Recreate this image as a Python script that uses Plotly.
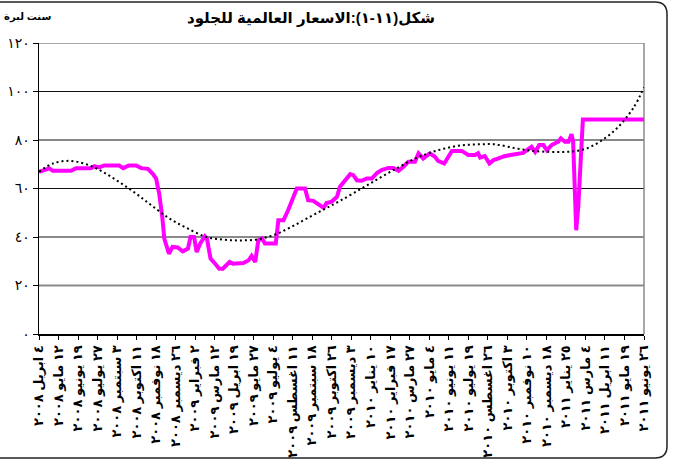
import plotly.graph_objects as go

# ---------------- data ----------------
price_dates = [
    "2008-04-04", "2008-04-18", "2008-04-24", "2008-05-01", "2008-06-05", "2008-06-15",
    "2008-07-14", "2008-07-21", "2008-07-30", "2008-08-09", "2008-09-07", "2008-09-15",
    "2008-09-26", "2008-10-10", "2008-10-20", "2008-11-02", "2008-11-11", "2008-11-18",
    "2008-11-24", "2008-11-30", "2008-12-04", "2008-12-13", "2008-12-20", "2008-12-30",
    "2009-01-09", "2009-01-19", "2009-01-24", "2009-01-31", "2009-02-05", "2009-02-12",
    "2009-02-21", "2009-02-25", "2009-03-04", "2009-03-13", "2009-03-21", "2009-03-28",
    "2009-04-10", "2009-04-17", "2009-05-07", "2009-05-17", "2009-05-23", "2009-05-30",
    "2009-06-05", "2009-06-12", "2009-06-18", "2009-07-09", "2009-07-14", "2009-07-24",
    "2009-08-02", "2009-08-19", "2009-09-04", "2009-09-10", "2009-09-20", "2009-10-10",
    "2009-10-16", "2009-10-26", "2009-11-05", "2009-11-11", "2009-11-29", "2009-12-01",
    "2009-12-07", "2009-12-14", "2009-12-23", "2010-01-02", "2010-01-12", "2010-01-22",
    "2010-01-31", "2010-02-13", "2010-02-23", "2010-03-05", "2010-03-14", "2010-03-24",
    "2010-04-06", "2010-04-13", "2010-04-22", "2010-05-05", "2010-05-15", "2010-05-21",
    "2010-06-02", "2010-06-17", "2010-07-06", "2010-07-19", "2010-08-01", "2010-08-07",
    "2010-08-11", "2010-08-20", "2010-08-29", "2010-09-06", "2010-09-16", "2010-09-27",
    "2010-10-09", "2010-11-03", "2010-11-10", "2010-11-19", "2010-11-26", "2010-12-04",
    "2010-12-12", "2010-12-19", "2010-12-28", "2011-01-04", "2011-01-10", "2011-01-15",
    "2011-01-23", "2011-01-30", "2011-02-05", "2011-02-08", "2011-02-14", "2011-02-18",
    "2011-02-27", "2011-06-26",
]
price_values = [
    66.9, 67.6, 68.3, 67.3, 67.3, 68.3,
    68.3, 69.2, 68.7, 69.5, 69.5, 68.4,
    69.5, 69.5, 68.4, 68.1, 66.2, 64.1,
    57.9, 48.3, 39.3, 33.1, 35.9, 35.7,
    34.1, 35.2, 40.0, 40.0, 33.8, 37.3,
    40.3, 39.3, 31.1, 29.0, 26.9, 26.9,
    29.7, 29.0, 29.3, 30.4, 32.2, 29.7,
    38.6, 39.4, 37.3, 37.3, 46.9, 46.9,
    51.0, 60.0, 60.0, 55.2, 54.9, 52.1,
    54.0, 54.6, 56.5, 60.7, 65.5, 65.9,
    65.5, 63.4, 63.2, 64.1, 64.1, 66.4,
    67.6, 68.5, 68.5, 67.3, 68.9, 71.0,
    71.0, 74.5, 72.4, 74.5, 73.1, 71.4,
    70.3, 75.5, 75.5, 73.8, 73.8, 74.5,
    72.8, 73.4, 70.3, 71.7, 72.4, 73.3,
    73.8, 74.7, 75.8, 77.2, 75.1, 77.9,
    77.9, 75.8, 77.9, 78.6, 79.3, 80.7,
    79.3, 79.3, 82.4, 79.3, 42.8, 52.4,
    88.5, 88.5,
]

trend_dates = [
    "2008-04-04", "2008-05-01", "2008-06-02", "2008-07-05", "2008-08-06", "2008-09-07",
    "2008-10-10", "2008-11-11", "2008-12-14", "2009-01-15", "2009-02-24", "2009-03-29",
    "2009-04-30", "2009-06-02", "2009-07-04", "2009-08-06", "2009-09-07", "2009-10-10",
    "2009-11-11", "2009-12-23", "2010-01-25", "2010-02-26", "2010-03-31", "2010-05-02",
    "2010-06-03", "2010-07-06", "2010-08-07", "2010-09-09", "2010-10-21", "2010-11-22",
    "2010-12-25", "2011-01-26", "2011-02-28", "2011-04-01", "2011-05-04", "2011-06-05",
    "2011-06-26",
]
trend_values = [
    66.9, 70.3, 71.4, 70.0, 66.9, 62.7,
    57.9, 52.7, 47.6, 43.9, 40.0, 38.9,
    38.6, 39.0, 40.7, 43.9, 47.6, 51.3,
    54.9, 60.0, 64.1, 67.9, 71.7, 74.5,
    76.5, 77.8, 78.2, 78.2, 76.5, 75.5,
    75.1, 75.1, 76.1, 79.3, 84.8, 93.1,
    101.7,
]

tick_dates = [
    "2008-04-04", "2008-05-12", "2008-06-19", "2008-07-27", "2008-09-03", "2008-10-11",
    "2008-11-18", "2008-12-26", "2009-02-02", "2009-03-12", "2009-04-19", "2009-05-27",
    "2009-07-04", "2009-08-11", "2009-09-18", "2009-10-26", "2009-12-03", "2010-01-10",
    "2010-02-17", "2010-03-27", "2010-05-04", "2010-06-11", "2010-07-19", "2010-08-26",
    "2010-10-03", "2010-11-10", "2010-12-18", "2011-01-25", "2011-03-04", "2011-04-11",
    "2011-05-19", "2011-06-26",
]
tick_labels = [
    "٤ ابريل ٢٠٠٨", "١٢ مايو ٢٠٠٨", "١٩ يونيو ٢٠٠٨", "٢٧ يوليو ٢٠٠٨",
    "٣ سبتمبر ٢٠٠٨", "١١ اكتوبر ٢٠٠٨", "١٨ نوفمبر ٢٠٠٨", "٢٦ ديسمبر ٢٠٠٨",
    "٢ فبراير ٢٠٠٩", "١٢ مارس ٢٠٠٩", "١٩ ابريل ٢٠٠٩", "٢٧ مايو ٢٠٠٩",
    "٤ يوليو ٢٠٠٩", "١١ اغسطس ٢٠٠٩", "١٨ سبتمبر ٢٠٠٩", "٢٦ اكتوبر ٢٠٠٩",
    "٣ ديسمبر ٢٠٠٩", "١٠ يناير ٢٠١٠", "١٧ فبراير ٢٠١٠", "٢٧ مارس ٢٠١٠",
    "٤ مايو ٢٠١٠", "١١ يونيو ٢٠١٠", "١٩ يوليو ٢٠١٠", "٢٦ اغسطس ٢٠١٠",
    "٣ اكتوبر ٢٠١٠", "١٠ نوفمبر ٢٠١٠", "١٨ ديسمبر ٢٠١٠", "٢٥ يناير ٢٠١١",
    "٤ مارس ٢٠١١", "١١ ابريل ٢٠١١", "١٩ مايو ٢٠١١", "٢٦ يونيو ٢٠١١",
]

y_ticks = [0, 20, 40, 60, 80, 100, 120]
y_tick_labels = ["٠", "٢٠", "٤٠", "٦٠", "٨٠", "١٠٠", "١٢٠"]
grid_colors = ["#000000", "#8a8a8a", "#8a8a8a", "#111111", "#111111", "#111111", "#8a8a8a"]
grid_widths = [0, 2, 2, 1, 1, 1, 1.5]

title_text = "شكل(١١-١):الاسعار العالمية للجلود"
y_title = "سنت لبرة"

# ---------------- figure ----------------
W, H = 676, 462
ML, MR, MT, MB = 39, 32, 43, 128
PW, PH = W - ML - MR, H - MT - MB

def px(x):
    return (x - ML) / PW

def py(y):
    return (H - MB - y) / PH

FONT = "Liberation Sans, Arial, DejaVu Sans, sans-serif"

fig = go.Figure()

fig.add_trace(go.Scatter(
    x=price_dates, y=price_values, mode="lines",
    line=dict(color="#ff00ff", width=4),
    showlegend=False, hoverinfo="skip",
))
fig.add_trace(go.Scatter(
    x=trend_dates, y=trend_values, mode="lines",
    line=dict(color="#000000", width=2, dash="2px,3px", shape="spline", smoothing=1.0),
    showlegend=False, hoverinfo="skip",
))

shapes = []
for v, c, w in zip(y_ticks, grid_colors, grid_widths):
    if w > 0:
        shapes.append(dict(type="line", xref="paper", yref="y", x0=0, x1=1, y0=v, y1=v,
                           line=dict(color=c, width=w), layer="below"))
# right border of plot area
shapes.append(dict(type="line", xref="paper", yref="paper", x0=1, x1=1, y0=0, y1=1,
                   line=dict(color="#8a8a8a", width=1.5), layer="below"))
# rounded outer frame
fx0, fx1, fy0, fy1, r = -5, 667, 2, 458, 12
path = (f"M {px(fx0)},{py(fy0)} L {px(fx1 - r)},{py(fy0)} "
        f"Q {px(fx1)},{py(fy0)} {px(fx1)},{py(fy0 + r)} "
        f"L {px(fx1)},{py(fy1 - r)} "
        f"Q {px(fx1)},{py(fy1)} {px(fx1 - r)},{py(fy1)} "
        f"L {px(fx0)},{py(fy1)}")
shapes.append(dict(type="path", xref="paper", yref="paper", path=path,
                   line=dict(color="#222222", width=1.5)))

fig.update_layout(
    width=W, height=H,
    margin=dict(l=ML, r=MR, t=MT, b=MB, autoexpand=False),
    paper_bgcolor="white", plot_bgcolor="white",
    font=dict(family=FONT, color="black"),
    shapes=shapes,
    annotations=[
        dict(text=f"<b>{title_text}</b>", xref="paper", yref="paper",
             x=px(311), y=py(18), xanchor="center", yanchor="middle",
             showarrow=False, font=dict(size=15, family=FONT, color="black")),
        dict(text=f"<b>{y_title}</b>", xref="paper", yref="paper",
             x=px(27), y=py(17), xanchor="center", yanchor="middle",
             showarrow=False, font=dict(size=10, family=FONT, color="black")),
    ],
    xaxis=dict(
        type="date", range=[tick_dates[0], tick_dates[-1]],
        tickmode="array", tickvals=tick_dates, ticktext=[f"<b>{t}</b>" for t in tick_labels],
        tickangle=-90, tickfont=dict(size=13, family=FONT, color="black"),
        ticks="outside", ticklen=4, tickcolor="black", tickwidth=1,
        showgrid=False, zeroline=False,
        showline=True, linecolor="black", linewidth=2,
    ),
    yaxis=dict(
        range=[0, 120], tickmode="array", tickvals=y_ticks, ticktext=y_tick_labels,
        tickfont=dict(size=14, family=FONT, color="black"),
        ticks="outside", ticklen=5, tickcolor="black", tickwidth=1,
        showgrid=False, zeroline=False,
        showline=True, linecolor="black", linewidth=1.5,
    ),
)

fig.write_html(
    "out.html",
    config={"displayModeBar": False, "staticPlot": True},
    post_script="document.body.style.margin='0';document.body.style.padding='0';document.body.style.overflow='hidden';",
)
